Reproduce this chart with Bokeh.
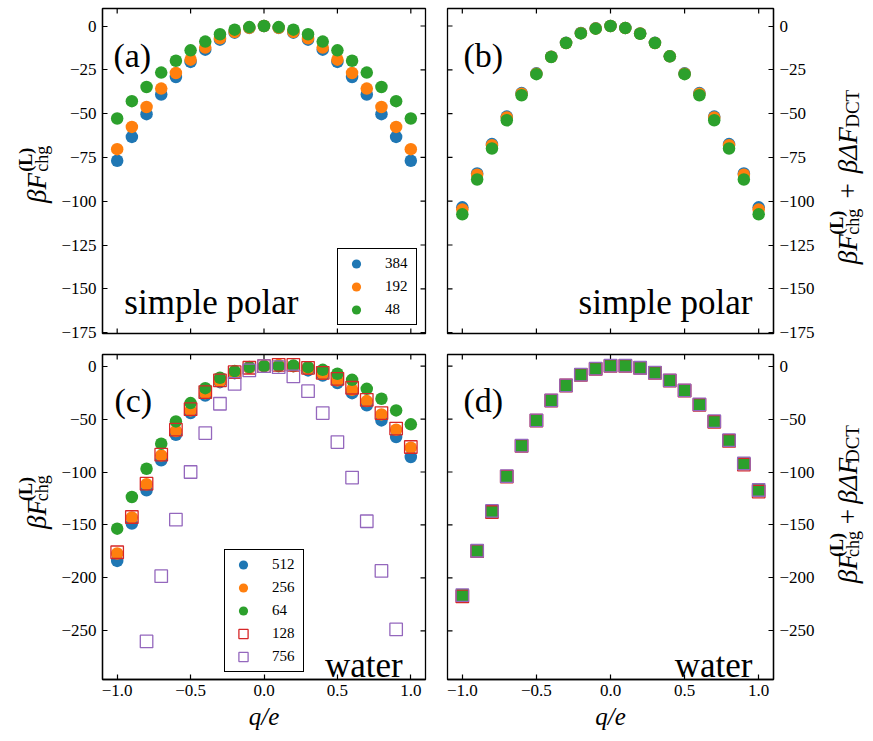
import math
from bokeh.plotting import figure
from bokeh.models import Range1d, LinearAxis, FixedTicker, Label, Legend, LegendItem
from bokeh.layouts import column, row
from bokeh.embed import file_html
from bokeh.resources import INLINE

# ------------------------------------------------------------------ data
q = [-1.0, -0.9, -0.8, -0.7, -0.6, -0.5, -0.4, -0.3, -0.2, -0.1, 0.0,
     0.1, 0.2, 0.3, 0.4, 0.5, 0.6, 0.7, 0.8, 0.9, 1.0]
q_756 = [-0.8, -0.7, -0.6, -0.5, -0.4, -0.3, -0.2, -0.1, 0.0,
         0.1, 0.2, 0.3, 0.4, 0.5, 0.6, 0.7, 0.8, 0.9]

# (a) simple polar, beta F_chg
a_384 = [-76.9, -63.3, -50.3, -39.1, -29.1, -20.5, -13.5, -7.8, -3.8, -1.1, 0.0,
         -1.1, -3.8, -7.8, -13.5, -20.5, -29.1, -39.1, -50.3, -63.3, -76.9]
a_192 = [-70.3, -57.6, -46.2, -35.7, -26.8, -19.2, -12.3, -7.0, -3.4, -1.0, 0.0,
         -1.0, -3.4, -7.0, -12.3, -19.2, -26.8, -35.7, -46.2, -57.6, -70.3]
a_48 = [-52.8, -42.9, -34.8, -26.6, -19.8, -13.9, -8.9, -4.7, -2.1, -0.6, 0.0,
        -0.6, -2.1, -4.7, -8.9, -13.9, -19.8, -26.6, -34.8, -42.9, -52.8]

# (b) simple polar, corrected
b_384 = [-103.5, -84.2, -67.4, -51.7, -38.3, -27.0, -17.5, -9.6, -4.0, -1.3, 0.0,
         -1.1, -4.2, -9.6, -17.3, -27.0, -38.3, -51.7, -67.4, -84.2, -103.5]
b_192 = [-104.7, -84.9, -68.0, -52.2, -38.6, -27.2, -17.6, -9.7, -4.1, -1.4, 0.0,
         -1.2, -4.3, -9.7, -17.3, -27.2, -38.6, -52.2, -68.0, -84.9, -104.7]
b_48 = [-107.5, -87.6, -69.9, -53.8, -39.5, -27.5, -17.7, -9.7, -4.2, -1.5, 0.0,
        -1.2, -4.4, -9.7, -17.3, -27.5, -39.5, -53.8, -69.9, -87.6, -107.5]

# (c) water, beta F_chg
c_512 = [-184.0, -148.7, -117.3, -89.0, -64.8, -44.3, -27.7, -15.1, -6.6, -1.6, 0.0,
         0.5, 0.0, -4.0, -8.8, -16.0, -25.5, -37.0, -51.3, -67.0, -85.8]
c_256 = [-177.0, -143.0, -111.6, -84.3, -61.3, -41.8, -25.5, -14.2, -6.0, -1.6, 0.0,
         1.0, 0.0, -2.5, -7.2, -13.5, -22.3, -33.0, -45.6, -60.0, -77.0]
c_64 = [-153.5, -123.6, -96.9, -73.3, -52.2, -34.9, -20.8, -11.0, -4.7, -0.9, 0.0,
        0.0, 0.5, -1.0, -3.5, -7.2, -12.9, -21.4, -30.8, -41.8, -55.0]
c_128 = [-175.8, -142.5, -111.0, -83.6, -60.0, -40.6, -24.5, -13.5, -5.7, -1.5, 0.0,
         1.2, 1.2, -1.6, -6.3, -12.0, -20.4, -31.8, -44.3, -59.0, -76.4]
c_756 = [-260.0, -198.4, -145.0, -100.0, -63.2, -35.5, -16.7, -4.0, 0.0,
         -1.0, -9.7, -23.6, -44.3, -71.7, -105.3, -146.5, -193.4, -248.7]

# (d) water, corrected
d_512 = [-216.4, -174.5, -137.0, -104.0, -75.2, -51.3, -32.4, -18.2, -8.2, -2.5, 0.3,
         0.3, -1.6, -6.3, -13.5, -23.0, -36.2, -52.2, -70.1, -92.1, -117.3]
d_256 = [-216.4, -174.5, -137.0, -104.0, -75.2, -51.3, -32.4, -18.2, -8.2, -2.5, 0.3,
         0.3, -1.6, -6.3, -13.5, -23.0, -36.2, -52.2, -70.1, -92.1, -117.3]
d_64 = [-216.4, -174.5, -137.0, -104.0, -75.2, -51.3, -32.4, -18.2, -8.2, -2.5, 0.3,
        0.3, -1.6, -6.3, -13.5, -23.0, -36.2, -52.2, -70.1, -92.1, -117.3]
d_128 = [-217.5, -174.8, -137.8, -104.3, -75.4, -51.4, -32.5, -18.3, -8.3, -2.6, 0.2,
         0.2, -1.7, -6.4, -13.6, -23.2, -36.5, -52.6, -70.6, -93.0, -118.5]
d_756 = [-216.3, -174.4, -136.8, -103.9, -75.1, -51.2, -32.3, -18.1, -8.1, -2.4, 0.4,
         0.4, -1.5, -6.2, -13.4, -22.9, -36.1, -52.0, -69.9, -91.9, -117.0]

x_ticks = [-1.0, -0.5, 0.0, 0.5, 1.0]
x_tick_labels = ["\u22121.0", "\u22120.5", "0.0", "0.5", "1.0"]
y_ticks_top = [0, -25, -50, -75, -100, -125, -150, -175]
y_tick_labels_top = ["0", "\u221225", "\u221250", "\u221275", "\u2212100",
                     "\u2212125", "\u2212150", "\u2212175"]
y_ticks_bot = [0, -50, -100, -150, -200, -250]
y_tick_labels_bot = ["0", "\u221250", "\u2212100", "\u2212150", "\u2212200", "\u2212250"]

legend_top = ["384", "192", "48"]
legend_bot = ["512", "256", "64", "128", "756"]
panel_tags = ["(a)", "(b)", "(c)", "(d)"]
system_names = ["simple polar", "water"]
x_label = "q/e"

BLUE, ORANGE, GREEN, RED, PURPLE = "#1f77b4", "#ff7f0e", "#2ca02c", "#d62728", "#9467bd"
SERIF = "Liberation Serif"

X_RANGE = (-1.1, 1.1)
Y_RANGE_TOP = (-175.5, 10.0)
Y_RANGE_BOT = (-296.0, 11.0)

# ------------------------------------------------------------------ layout (page px)
FW_L, FW_R, FH = 325, 326, 325
ROW1_H, ROW2_H = 345, 390
LABL_W, A_W, B_W, LABR_W = 58, 371, 390, 48
RECT = {  # frame rectangles on the page: left, top, width, height
    "a": (LABL_W + 42, 8, FW_L, FH),
    "b": (LABL_W + A_W + 18, 8, FW_R, FH),
    "c": (LABL_W + 42, ROW1_H + 9, FW_L, FH),
    "d": (LABL_W + A_W + 18, ROW1_H + 9, FW_R, FH),
}
TICK_LEN = 5


def style_axis(ax):
    ax.major_tick_in = TICK_LEN
    ax.major_tick_out = 0
    ax.minor_tick_in = 0
    ax.minor_tick_out = 0
    ax.major_tick_line_color = "black"
    ax.major_tick_line_width = 1.2
    ax.axis_line_color = "black"
    ax.axis_line_width = 1.3
    ax.major_label_text_font = SERIF
    ax.major_label_text_color = "black"
    ax.major_label_text_font_size = "17px"
    ax.major_label_standoff = 6


def make_fig(width, height, yr, borders, left_labels, bottom_labels, yticks, ylabels):
    bl, br, bt, bb = borders
    p = figure(width=width, height=height, x_range=Range1d(*X_RANGE), y_range=Range1d(*yr),
               output_backend="svg", toolbar_location=None,
               x_axis_location=None, y_axis_location=None,
               min_border_left=bl, min_border_right=br, min_border_top=bt, min_border_bottom=bb)
    p.grid.visible = False
    p.outline_line_color = "black"
    p.outline_line_width = 1.3
    p.background_fill_color = "white"
    p.border_fill_color = "white"

    dx = TICK_LEN * (X_RANGE[1] - X_RANGE[0]) / (FW_L if left_labels else FW_R)
    dy = TICK_LEN * (yr[1] - yr[0]) / FH
    if bottom_labels:
        ax = LinearAxis(ticker=FixedTicker(ticks=x_ticks, minor_ticks=[]),
                        major_label_overrides=dict(zip(x_ticks, x_tick_labels)))
        style_axis(ax)
        ax.major_label_standoff = 5
        ax.axis_label = x_label
        ax.axis_label_text_font = SERIF
        ax.axis_label_text_font_style = "italic"
        ax.axis_label_text_font_size = "25px"
        ax.axis_label_text_color = "black"
        ax.axis_label_standoff = 4
        p.add_layout(ax, "below")
    else:
        p.segment(x0=x_ticks, y0=[yr[0]] * len(x_ticks), x1=x_ticks,
                  y1=[yr[0] + dy] * len(x_ticks), line_color="black", line_width=1.2)
    p.segment(x0=x_ticks, y0=[yr[1]] * len(x_ticks), x1=x_ticks,
              y1=[yr[1] - dy] * len(x_ticks), line_color="black", line_width=1.2)
    ax = LinearAxis(ticker=FixedTicker(ticks=yticks, minor_ticks=[]),
                    major_label_overrides=dict(zip(yticks, ylabels)))
    style_axis(ax)
    p.add_layout(ax, "left" if left_labels else "right")
    if left_labels:
        p.segment(x0=[X_RANGE[1]] * len(yticks), y0=yticks, x1=[X_RANGE[1] - dx] * len(yticks),
                  y1=yticks, line_color="black", line_width=1.2)
    else:
        p.segment(x0=[X_RANGE[0]] * len(yticks), y0=yticks, x1=[X_RANGE[0] + dx] * len(yticks),
                  y1=yticks, line_color="black", line_width=1.2)
    return p


def to_data(key, yr, px, py):
    L, T, W, H = RECT[key]
    x = X_RANGE[0] + (px - L) / W * (X_RANGE[1] - X_RANGE[0])
    y = yr[1] - (py - T) / H * (yr[1] - yr[0])
    return x, y


def add_text(p, key, yr, px, py, text, size, align="left"):
    x, y = to_data(key, yr, px, py)
    p.add_layout(Label(x=x, y=y, text=text, text_font=SERIF, text_font_size=size,
                       text_align=align, text_baseline="alphabetic", text_color="black"))


def make_label_fig(width, height):
    p = figure(width=width, height=height, x_range=Range1d(0, width), y_range=Range1d(0, height),
               output_backend="svg", toolbar_location=None,
               x_axis_location=None, y_axis_location=None, min_border=0)
    p.grid.visible = False
    p.outline_line_color = None
    p.background_fill_color = "white"
    p.border_fill_color = "white"
    return p


def add_rot_label(p, ox, oy, h, base_x, center_y, pieces):
    # pieces: (text, centre offset along text (upward) from the title centre,
    #          offset toward glyph tops, size, style)
    for text, t, n, size, style in pieces:
        p.add_layout(Label(x=base_x - n - ox, y=h - (center_y - t - oy), text=text,
                           angle=math.pi / 2, text_font=SERIF, text_font_size=size,
                           text_font_style=style, text_align="center",
                           text_baseline="alphabetic", text_color="black"))


LEFT_PIECES = [("\u03b2F", -17, 0, "27px", "italic"),
               ("(L)", 13, 11, "18px", "bold"),
               ("chg", 14, -5, "18px", "normal")]
RIGHT_PIECES = [("\u03b2F", -85, 0, "27px", "italic"),
                ("(L)", -57, 11, "18px", "bold"),
                ("chg", -56, -5, "18px", "normal"),
                ("+", -23, 0, "27px", "normal"),
                ("\u03b2\u0394F", 20, 0, "27px", "italic"),
                ("DCT", 64, -5, "19px", "normal")]

# ------------------------------------------------------------------ panels
pa = make_fig(A_W, ROW1_H, Y_RANGE_TOP, (42, 4, 8, 12), True, False, y_ticks_top, y_tick_labels_top)
pb = make_fig(B_W, ROW1_H, Y_RANGE_TOP, (18, 46, 8, 12), False, False, y_ticks_top, y_tick_labels_top)
pc = make_fig(A_W, ROW2_H, Y_RANGE_BOT, (42, 4, 9, 56), True, True, y_ticks_bot, y_tick_labels_bot)
pd = make_fig(B_W, ROW2_H, Y_RANGE_BOT, (18, 46, 9, 56), False, True, y_ticks_bot, y_tick_labels_bot)

MS = 12.5

ra = [pa.scatter(q, ys, marker="circle", size=MS, fill_color=col, line_color=None)
      for ys, col in zip([a_384, a_192, a_48], [BLUE, ORANGE, GREEN])]
for ys, col in zip([b_384, b_192, b_48], [BLUE, ORANGE, GREEN]):
    pb.scatter(q, ys, marker="circle", size=MS, fill_color=col, line_color=None)
rc = [pc.scatter(q, ys, marker="circle", size=MS, fill_color=col, line_color=None)
      for ys, col in zip([c_512, c_256, c_64], [BLUE, ORANGE, GREEN])]
rc.append(pc.scatter(q, c_128, marker="square", size=MS, fill_color=None, line_color=RED, line_width=1.3))
rc.append(pc.scatter(q_756, c_756, marker="square", size=MS, fill_color=None, line_color=PURPLE, line_width=1.3))
for ys, col in zip([d_512, d_256, d_64], [BLUE, ORANGE, GREEN]):
    pd.scatter(q, ys, marker="square", size=MS, fill_color=col, line_color=None)
pd.scatter(q, d_128, marker="square", size=MS, fill_color=None, line_color=RED, line_width=1.3)
pd.scatter(q, d_756, marker="square", size=MS, fill_color=None, line_color=PURPLE, line_width=1.3)


def make_legend(labels, renderers, location):
    return Legend(items=[LegendItem(label=l, renderers=[r]) for l, r in zip(labels, renderers)],
                  location=location, glyph_width=30, glyph_height=23, spacing=0,
                  label_standoff=14, label_width=28, label_height=20, padding=3,
                  label_text_font=SERIF, label_text_font_size="15px", label_text_color="black",
                  border_line_color="black", border_line_width=1, border_line_alpha=1,
                  background_fill_color="white", background_fill_alpha=1)


lga = make_legend(legend_top, ra, "bottom_right")
lga.margin = 8
pa.add_layout(lga)
lgc = make_legend(legend_bot, rc, (122, 7))
pc.add_layout(lgc)

add_text(pa, "a", Y_RANGE_TOP, 111, 55, panel_tags[0], "34px")
add_text(pb, "b", Y_RANGE_TOP, 463, 55, panel_tags[1], "34px")
add_text(pc, "c", Y_RANGE_BOT, 112, 400, panel_tags[2], "34px")
add_text(pd, "d", Y_RANGE_BOT, 463, 400, panel_tags[3], "34px")
add_text(pa, "a", Y_RANGE_TOP, 122, 302, system_names[0], "35px")
add_text(pb, "b", Y_RANGE_TOP, 752, 302, system_names[0], "35px", align="right")
add_text(pc, "c", Y_RANGE_BOT, 402, 665, system_names[1], "35px", align="right")
add_text(pd, "d", Y_RANGE_BOT, 752, 665, system_names[1], "35px", align="right")

# side figures holding the rotated y-axis titles
ll1 = make_label_fig(LABL_W, ROW1_H)
ll2 = make_label_fig(LABL_W, ROW2_H)
lr1 = make_label_fig(LABR_W, ROW1_H)
lr2 = make_label_fig(LABR_W, ROW2_H)
RX = LABL_W + A_W + B_W
for lp, key, ox, oy, h in [(ll1, "a", 0, 0, ROW1_H), (ll2, "c", 0, ROW1_H, ROW2_H)]:
    L, T, W, H = RECT[key]
    add_rot_label(lp, ox, oy, h, 36, T + H / 2 + 3, LEFT_PIECES)
for lp, key, ox, oy, h in [(lr1, "b", RX, 0, ROW1_H), (lr2, "d", RX, ROW1_H, ROW2_H)]:
    L, T, W, H = RECT[key]
    add_rot_label(lp, ox, oy, h, 847, T + H / 2, RIGHT_PIECES)

layout = column(row(ll1, pa, pb, lr1), row(ll2, pc, pd, lr2))
open("out.html", "w").write(file_html(layout, INLINE))
